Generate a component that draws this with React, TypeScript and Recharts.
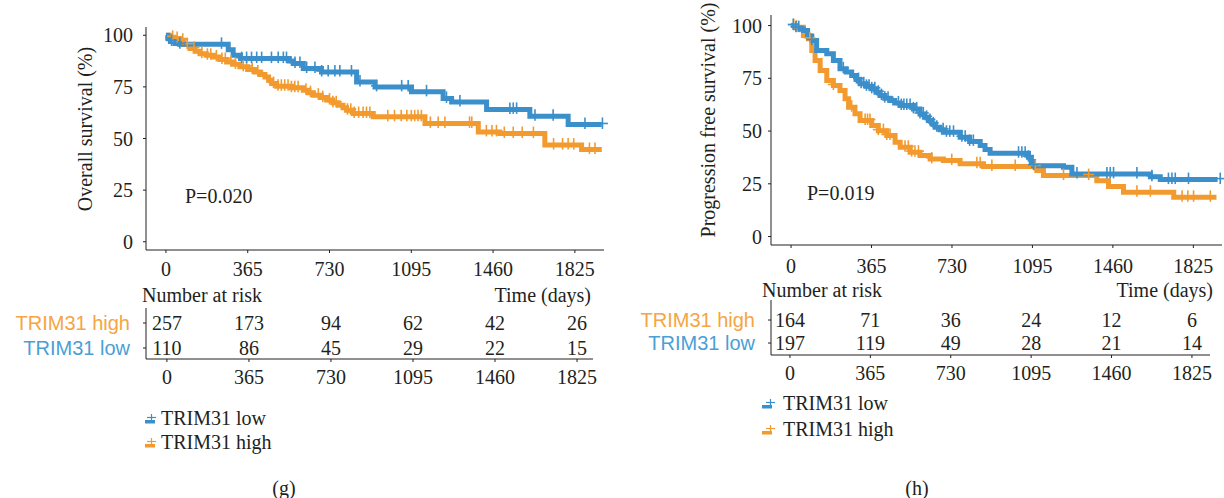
import { ComposedChart, Line, Scatter, XAxis, YAxis, Label } from "recharts"

const DAYS = [0, 365, 730, 1095, 1460, 1825]
const SURV_TICKS = [0, 25, 50, 75, 100]
const GROUP_LOW = "TRIM31 low"
const GROUP_HIGH = "TRIM31 high"

// (g) overall survival, Kaplan-Meier steps as [day, %]
const osLow = [
  [0, 100], [8, 98.5], [20, 97], [40, 96], [60, 95.6], [278, 93], [300, 90.3], [333, 88.7],
  [550, 87.5], [568, 86.3], [613, 83.9], [694, 82.2], [851, 77.4], [933, 75], [1096, 72.6],
  [1237, 69.4], [1275, 67.7], [1431, 64.1], [1624, 60.8], [1795, 56.8], [1945, 56.8],
]
const osHigh = [
  [0, 100], [15, 99], [35, 98.4], [62, 97.6], [80, 95.5], [107, 93.6], [130, 92.3], [152, 91.1],
  [180, 90.3], [211, 89.5], [240, 88.3], [271, 87.1], [300, 85.9], [330, 84.7], [365, 83.4],
  [397, 82.2], [420, 81], [442, 79.8], [458, 78.2], [472, 76.6], [494, 75.3], [560, 74.6],
  [613, 73.4], [635, 72.2], [658, 71], [690, 69.8], [717, 68.6], [745, 67.3], [769, 66.1],
  [790, 64.9], [806, 63.7], [836, 62.1], [925, 60.5], [1156, 57.3], [1394, 53.2], [1490, 52.4],
  [1691, 46.8], [1855, 44.7], [1945, 44.7],
]
// censored patients (day)
const osLowCensored = [
  25, 62, 248, 338, 360, 382, 405, 427, 471, 501, 524, 538, 576, 598, 628, 665, 695, 724, 754,
  776, 828, 866, 940, 1052, 1081, 1163, 1252, 1312, 1535, 1550, 1565, 1647, 1728, 1870, 1948,
]
const osHighCensored = [
  30, 50, 75, 95, 125, 160, 185, 200, 225, 250, 265, 290, 310, 345, 360, 385, 410, 480, 500, 515,
  530, 545, 560, 575, 590, 625, 645, 680, 700, 730, 745, 760, 810, 825, 840, 860, 880, 895, 910,
  990, 1020, 1050, 1075, 1095, 1110, 1125, 1140, 1180, 1215, 1245, 1355, 1365, 1430, 1455, 1475,
  1510, 1550, 1590, 1640, 1730, 1770, 1795, 1820, 1890, 1915,
]
const osRiskHigh = [257, 173, 94, 62, 42, 26]
const osRiskLow = [110, 86, 45, 29, 22, 15]

// (h) progression free survival
const pfsLow = [
  [0, 100], [20, 99], [40, 98.3], [56, 97.6], [75, 95], [94, 92.9], [116, 88.2], [162, 86.6],
  [192, 83.4], [222, 79.5], [250, 78], [275, 76.3], [295, 74.4], [313, 72.4], [340, 71.2],
  [366, 70], [385, 68.4], [404, 66.8], [425, 65.6], [449, 64.5], [470, 63.3], [495, 62.1],
  [555, 60.5], [585, 58.1], [605, 56.5], [623, 55], [640, 53.4], [654, 51.8], [675, 50.6],
  [691, 49.4], [767, 47.1], [810, 45.1], [858, 43.1], [880, 41.3], [903, 39.5], [1077, 37.6],
  [1090, 35.6], [1100, 33.6], [1236, 32.8], [1274, 29.7], [1630, 28.4], [1675, 27], [1935, 27],
]
const pfsHigh = [
  [0, 100], [18, 99.2], [56, 95.3], [79, 93.7], [94, 88.2], [109, 83.4], [132, 78.7], [162, 73.9],
  [192, 71.6], [222, 69.2], [245, 65.3], [261, 61.3], [290, 58.2], [313, 55], [366, 52.6],
  [396, 50.2], [434, 47.9], [472, 44.7], [495, 42.3], [540, 40], [585, 38.4], [631, 36.8],
  [691, 36], [767, 34.5], [873, 33.2], [1115, 31.3], [1145, 28.9], [1387, 26.5], [1440, 23.7],
  [1508, 21], [1736, 18.6], [1930, 18.6],
]
const pfsLowCensored = [
  10, 22, 35, 94, 237, 306, 318, 330, 342, 354, 366, 380, 396, 410, 425, 440, 487, 500, 512, 525,
  540, 555, 570, 585, 600, 615, 630, 645, 661, 690, 705, 720, 737, 775, 790, 810, 827, 1032, 1047,
  1062, 1077, 1100, 1297, 1433, 1448, 1463, 1569, 1637, 1712, 1728, 1743, 1803, 1947,
]
const pfsHighCensored = [
  12, 25, 85, 192, 275, 336, 347, 358, 396, 419, 434, 449, 517, 532, 547, 562, 578, 638, 729, 843,
  858, 911, 1017, 1108, 1236, 1350, 1569, 1630, 1774, 1800, 1826, 1902,
]
const pfsRiskHigh = [164, 71, 36, 24, 12, 6]
const pfsRiskLow = [197, 119, 49, 28, 21, 14]

const BLUE = "#3b8fcb"
const ORANGE = "#f39a2f"
const BLUE_TXT = "#4a9fd6"
const ORANGE_TXT = "#f5a543"
const INK = "#231f20"
const FONT = "'Liberation Serif', 'DejaVu Serif', serif"
const SANS = "'Liberation Sans', Arial, sans-serif"

const toRows = (steps: number[][]) => steps.map(([t, s]) => ({ t, s }))
const survAt = (steps: number[][], t: number) => {
  let s = steps[0][1]
  for (const [d, v] of steps) {
    if (d <= t) s = v
    else break
  }
  return s
}
const censorRows = (steps: number[][], days: number[]) => days.map((t) => ({ t, s: survAt(steps, t) }))
const riskRows = (counts: number[], row: number) => DAYS.map((t, i) => ({ t, row, n: counts[i] }))

// censor mark: a thin "+" sitting on the curve
const plus = (color: string) => (p: any) => (
  <g stroke={color} strokeWidth={1.6} fill="none">
    <line x1={p.cx - 5.5} x2={p.cx + 5.5} y1={p.cy - 1} y2={p.cy - 1} />
    <line x1={p.cx} x2={p.cx} y1={p.cy - 7} y2={p.cy + 4.5} />
  </g>
)

const riskCell = (p: any) => (
  <text x={p.cx} y={p.cy} textAnchor="middle" dominantBaseline="central" fill={INK} fontSize={20} fontFamily={FONT}>
    {p.payload.n}
  </text>
)

const RowTick = (p: any) => {
  const high = p.payload.value === 1
  return (
    <text x={p.x} y={p.y} textAnchor="end" dominantBaseline="central" fill={high ? ORANGE_TXT : BLUE_TXT} fontSize={20} fontFamily={SANS}>
      {high ? GROUP_HIGH : GROUP_LOW}
    </text>
  )
}

const tickStyle = { fill: INK, fontSize: 20, fontFamily: FONT }
const abs = (left: number, top: number, extra: any = {}) => ({ position: "absolute" as const, left, top, ...extra })
const txt = { fontFamily: FONT, fontSize: 20, color: INK, lineHeight: "24px", whiteSpace: "nowrap" as const }

function Panel(props: any) {
  const c = props.cfg
  const lowRows = toRows(props.low)
  const highRows = toRows(props.high)
  return (
    <>
      <div style={abs(c.left, 0)}>
        <ComposedChart width={c.width} height={290} margin={c.kmMargin}>
          <XAxis type="number" dataKey="t" domain={c.xDomain} ticks={DAYS} height={30} tickSize={3} tickMargin={c.xTickMargin}
            axisLine={{ stroke: INK }} tickLine={{ stroke: INK }} tick={tickStyle} />
          <YAxis type="number" domain={c.yDomain} ticks={SURV_TICKS} width={60} tickSize={3} tickMargin={c.yTickMargin}
            axisLine={{ stroke: INK }} tickLine={{ stroke: INK }} tick={tickStyle}>
            <Label content={(lp: any) => {
              const vb = lp.viewBox
              const x = vb.x + c.titleDx
              const y = vb.y + vb.height / 2 + c.titleDy
              return (
                <text x={x} y={y} transform={`rotate(-90 ${x} ${y})`} textAnchor="middle" dominantBaseline="central"
                  fill={INK} fontSize={20} fontFamily={FONT}>{props.title}</text>
              )
            }} />
          </YAxis>
          <Line data={highRows} dataKey="s" type="stepAfter" stroke={ORANGE} strokeWidth={5} dot={false} isAnimationActive={false} />
          <Line data={lowRows} dataKey="s" type="stepAfter" stroke={BLUE} strokeWidth={5} dot={false} isAnimationActive={false} />
          <Scatter data={censorRows(props.high, props.highCensored)} dataKey="s" shape={plus(ORANGE)} isAnimationActive={false} />
          <Scatter data={censorRows(props.low, props.lowCensored)} dataKey="s" shape={plus(BLUE)} isAnimationActive={false} />
        </ComposedChart>
      </div>
      <div style={{ ...abs(c.pX, c.pY - 12), ...txt }}>{props.pText}</div>
      <div style={{ ...abs(c.narX, c.narY - 12), ...txt }}>Number at risk</div>
      <div style={{ ...abs(c.timeRight - 200, c.narY - 12, { width: 200, textAlign: "right" }), ...txt }}>Time (days)</div>
      <div style={abs(c.left, c.riskTop)}>
        <ComposedChart width={c.width} height={100} margin={c.riskMargin}>
          <XAxis type="number" dataKey="t" domain={c.riskDomain} ticks={DAYS} height={30} tickSize={3} tickMargin={8}
            axisLine={{ stroke: INK }} tickLine={{ stroke: INK }} tick={tickStyle} />
          <YAxis type="number" domain={c.rowDomain} ticks={[0, 1]} width={140} tickSize={3} tickMargin={13}
            axisLine={{ stroke: INK }} tickLine={{ stroke: INK }} tick={<RowTick />} />
          <Scatter data={riskRows(props.riskHigh, 1)} dataKey="row" shape={riskCell} isAnimationActive={false} />
          <Scatter data={riskRows(props.riskLow, 0)} dataKey="row" shape={riskCell} isAnimationActive={false} />
        </ComposedChart>
      </div>
      {[{ name: GROUP_LOW, color: BLUE }, { name: GROUP_HIGH, color: ORANGE }].map((g, i) => (
        <div key={g.name}>
          <svg width={14} height={12} style={abs(c.legIconX, c.legY + i * c.legGap - 4)}>
            <rect x={0} y={6} width={10} height={3.5} fill={g.color} />
            <line x1={c.plusX - 4.5} x2={c.plusX + 4.5} y1={3.5} y2={3.5} stroke={g.color} strokeWidth={1.2} />
            <line x1={c.plusX} x2={c.plusX} y1={0} y2={8} stroke={g.color} strokeWidth={1.2} />
          </svg>
          <div style={{ ...abs(c.legTextX, c.legY + i * c.legGap - 12), ...txt }}>{g.name}</div>
        </div>
      ))}
      <div style={{ ...abs(c.capX - 30, 476, { width: 60, textAlign: "center" }), ...txt }}>{props.caption}</div>
    </>
  )
}

const gCfg = {
  left: 0, width: 620,
  kmMargin: { top: 27, right: 16, bottom: 10, left: 86 },
  xDomain: [-89, 1955], yDomain: [-4, 104], xTickMargin: 9, yTickMargin: 10,
  titleDx: -1, titleDy: -9.5,
  pX: 185, pY: 196, narX: 142, narY: 295, timeRight: 591,
  riskTop: 300, riskMargin: { top: 8, right: 27, bottom: 11, left: 6 },
  riskDomain: [-93, 1896], rowDomain: [-0.44, 1.6],
  legIconX: 145, legTextX: 161, legY: 418, legGap: 24, plusX: 6.5, capX: 284,
}
const hCfg = {
  left: 620, width: 604,
  kmMargin: { top: 15, right: 2, bottom: 15, left: 91 },
  xDomain: [-91, 1955], yDomain: [-4, 105], xTickMargin: 11, yTickMargin: 6,
  titleDx: -3, titleDy: -10,
  pX: 807, pY: 193, narX: 762, narY: 290, timeRight: 1213,
  riskTop: 295, riskMargin: { top: 5, right: 14, bottom: 10, left: 11 },
  riskDomain: [-86, 1907], rowDomain: [-0.52, 1.87],
  legIconX: 762, legTextX: 783, legY: 403, legGap: 26, plusX: 8.5, capX: 917,
}

export default function App() {
  return (
    <div style={{ position: "absolute", left: 0, top: 0, width: 1224, height: 498, background: "#fff" }}>
      <Panel cfg={gCfg} title="Overall survival (%)" pText="P=0.020" caption="(g)"
        low={osLow} high={osHigh} lowCensored={osLowCensored} highCensored={osHighCensored}
        riskHigh={osRiskHigh} riskLow={osRiskLow} />
      <Panel cfg={hCfg} title="Progression free survival (%)" pText="P=0.019" caption="(h)"
        low={pfsLow} high={pfsHigh} lowCensored={pfsLowCensored} highCensored={pfsHighCensored}
        riskHigh={pfsRiskHigh} riskLow={pfsRiskLow} />
    </div>
  )
}
